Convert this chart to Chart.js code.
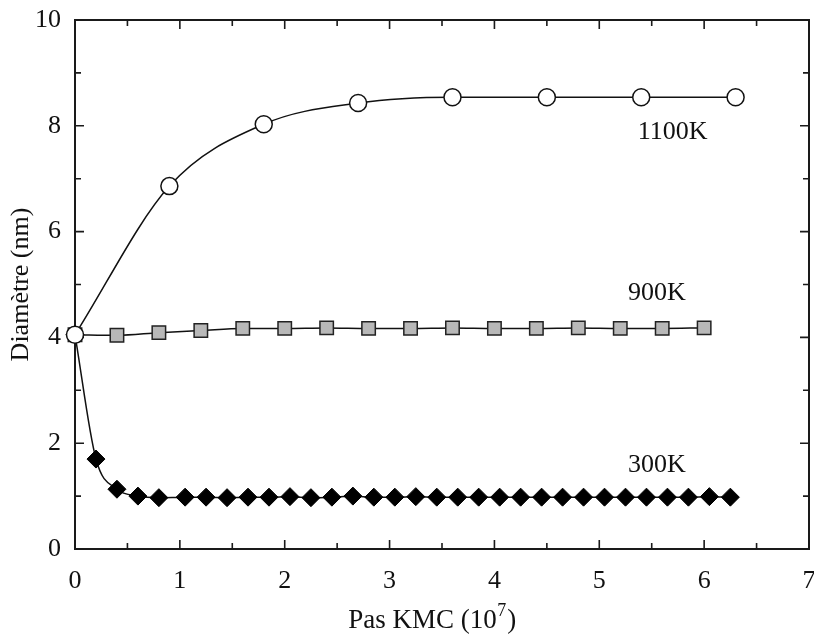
<!DOCTYPE html>
<html>
<head>
<meta charset="utf-8">
<script src="https://cdn.jsdelivr.net/npm/chart.js@4/dist/chart.umd.min.js"></script>
<style>
  html, body { margin: 0; padding: 0; background: #fff; }
  #wrap { width: 814px; height: 637px; }
</style>
</head>
<body>
<div id="wrap"><canvas id="grafico" width="814" height="637"></canvas></div>
<script>
// Pas KMC (10^7) et diamètre (nm) pour chaque température
const steps1100 = [0, 0.9, 1.8, 2.7, 3.6, 4.5, 5.4, 6.3];
const diam1100 = [4.05, 6.86, 8.03, 8.43, 8.54, 8.54, 8.54, 8.54];

const steps900 = [0, 0.4, 0.8, 1.2, 1.6, 2.0, 2.4, 2.8, 3.2, 3.6, 4.0, 4.4, 4.8, 5.2, 5.6, 6.0];
const diam900 = [4.05, 4.04, 4.09, 4.13, 4.17, 4.17, 4.18, 4.17, 4.17, 4.18, 4.17, 4.17, 4.18, 4.17, 4.17, 4.18];

const steps300 = [0, 0.2, 0.4, 0.6, 0.8, 1.05, 1.25, 1.45, 1.65, 1.85, 2.05, 2.25, 2.45, 2.65, 2.85, 3.05,
                  3.25, 3.45, 3.65, 3.85, 4.05, 4.25, 4.45, 4.65, 4.85, 5.05, 5.25, 5.45, 5.65, 5.85, 6.05, 6.25];
const diam300 = [4.05, 1.70, 1.13, 1.00, 0.97, 0.98, 0.98, 0.97, 0.98, 0.98, 0.99, 0.97, 0.98, 1.00, 0.98, 0.98,
                 0.99, 0.98, 0.98, 0.98, 0.98, 0.98, 0.98, 0.98, 0.98, 0.98, 0.98, 0.98, 0.98, 0.98, 0.99, 0.98];

const seriesLabels = ['1100K', '900K', '300K'];
const labelAnchors = [[5.7, 7.88], [5.55, 4.84], [5.55, 1.59]]; // en unités des axes

const xTicks = [0, 1, 2, 3, 4, 5, 6, 7];
const yTicks = [0, 2, 4, 6, 8, 10];

// titre de l'axe x : base, exposant, fin
const xTitleParts = ['Pas KMC (10', '7', ')'];

const FONT = "'Liberation Serif', 'Times New Roman', serif";

const toPoints = (xs, ys) => xs.map((x, i) => ({ x: x, y: ys[i] }));

// cadre + graduations vers l'intérieur (haut, bas, gauche, droite)
const framePlugin = {
    id: 'frame',
    beforeDatasetsDraw(chart) {
        const { ctx, chartArea: a, scales } = chart;
        ctx.save();
        ctx.strokeStyle = '#1a1a1a';
        ctx.lineWidth = 2;
        ctx.strokeRect(a.left, a.top, a.right - a.left, a.bottom - a.top);
        ctx.lineWidth = 1.6;
        ctx.beginPath();
        for (let v = 0; v <= 7; v += 0.5) {
            const px = scales.x.getPixelForValue(v);
            const len = Number.isInteger(v) ? 9 : 6;
            ctx.moveTo(px, a.bottom); ctx.lineTo(px, a.bottom - len);
            ctx.moveTo(px, a.top); ctx.lineTo(px, a.top + len);
        }
        for (let v = 0; v <= 10; v += 1) {
            const py = scales.y.getPixelForValue(v);
            const len = v % 2 === 0 ? 9 : 6;
            ctx.moveTo(a.left, py); ctx.lineTo(a.left + len, py);
            ctx.moveTo(a.right, py); ctx.lineTo(a.right - len, py);
        }
        ctx.stroke();
        ctx.restore();
    },
    afterDatasetsDraw(chart) {
        const { ctx, scales, chartArea: a } = chart;
        ctx.save();
        ctx.fillStyle = '#111';
        ctx.font = '26px ' + FONT;
        ctx.textAlign = 'center';
        ctx.textBaseline = 'middle';
        seriesLabels.forEach((txt, i) => {
            const [vx, vy] = labelAnchors[i];
            ctx.fillText(txt, scales.x.getPixelForValue(vx), scales.y.getPixelForValue(vy));
        });

        // titre x avec exposant
        const big = '27px ' + FONT, small = '18px ' + FONT;
        ctx.textAlign = 'left';
        ctx.textBaseline = 'alphabetic';
        ctx.font = big;
        const w0 = ctx.measureText(xTitleParts[0]).width;
        const w2 = ctx.measureText(xTitleParts[2]).width;
        ctx.font = small;
        const w1 = ctx.measureText(xTitleParts[1]).width + 1;
        const cx = (a.left + a.right) / 2 - 10;
        let x = cx - (w0 + w1 + w2) / 2;
        const base = 628;
        ctx.font = big;
        ctx.fillText(xTitleParts[0], x, base);
        x += w0 + 0.5;
        ctx.font = small;
        ctx.fillText(xTitleParts[1], x, base - 12);
        x += w1;
        ctx.font = big;
        ctx.fillText(xTitleParts[2], x, base);
        ctx.restore();
    }
};

const ctx = document.getElementById('grafico').getContext('2d');

new Chart(ctx, {
    type: 'scatter',
    data: {
        datasets: [
            {
                label: '1100K',
                data: toPoints(steps1100, diam1100),
                showLine: true,
                borderColor: '#111',
                borderWidth: 1.5,
                backgroundColor: '#fff',
                pointStyle: 'circle',
                pointRadius: 8.5,
                pointBorderWidth: 1.5,
                pointBorderColor: '#111',
                pointBackgroundColor: '#fff',
                cubicInterpolationMode: 'monotone',
                clip: false
            },
            {
                label: '900K',
                data: toPoints(steps900, diam900),
                showLine: true,
                borderColor: '#111',
                borderWidth: 1.5,
                pointStyle: 'rect',
                pointRadius: 9.5,
                pointBorderWidth: 1.5,
                pointBorderColor: '#222',
                pointBackgroundColor: '#b8b8b8',
                cubicInterpolationMode: 'monotone',
                clip: false
            },
            {
                label: '300K',
                data: toPoints(steps300, diam300),
                showLine: true,
                borderColor: '#111',
                borderWidth: 1.5,
                pointStyle: 'rectRot',
                pointRadius: 9,
                pointBorderWidth: 1,
                pointBorderColor: '#000',
                pointBackgroundColor: '#000',
                cubicInterpolationMode: 'monotone',
                clip: false
            }
        ]
    },
    options: {
        responsive: false,
        animation: false,
        layout: { autoPadding: false, padding: { top: 20, right: 5, left: 0, bottom: 0 } },
        plugins: {
            legend: { display: false },
            tooltip: { enabled: false }
        },
        scales: {
            x: {
                type: 'linear',
                min: 0,
                max: 7,
                afterBuildTicks: (scale) => { scale.ticks = xTicks.map(v => ({ value: v })); },
                afterFit: (scale) => {
                    scale.height = 88;
                    scale.paddingLeft = 0;
                    scale.paddingRight = 0;
                },
                grid: { display: false, drawTicks: false },
                border: { display: false },
                ticks: { color: '#111', font: { family: FONT, size: 26 }, padding: 17, maxRotation: 0 },
                title: { display: false }
            },
            y: {
                type: 'linear',
                min: 0,
                max: 10,
                afterBuildTicks: (scale) => { scale.ticks = yTicks.map(v => ({ value: v })); },
                afterFit: (scale) => {
                    scale.width = 75;
                    scale.paddingTop = 0;
                    scale.paddingBottom = 0;
                },
                grid: { display: false, drawTicks: false },
                border: { display: false },
                ticks: { color: '#111', font: { family: FONT, size: 26 }, padding: 14 },
                title: {
                    display: true,
                    text: 'Diamètre (nm)',
                    color: '#111',
                    font: { family: FONT, size: 26 },
                    padding: { top: 6, bottom: 0 }
                }
            }
        }
    },
    plugins: [framePlugin]
});
</script>
</body>
</html>
